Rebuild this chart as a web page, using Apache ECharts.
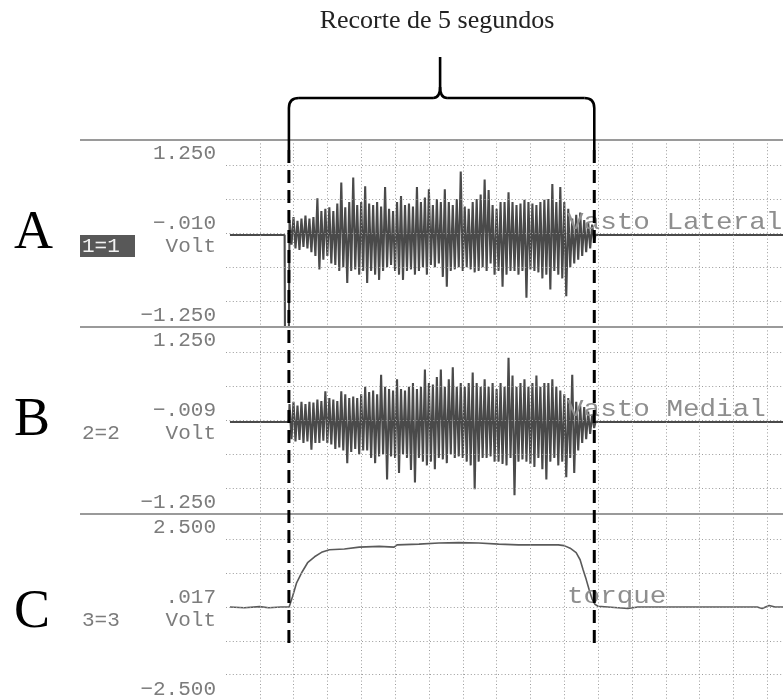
<!DOCTYPE html>
<html><head><meta charset="utf-8">
<script src="https://cdn.jsdelivr.net/npm/echarts@6/dist/echarts.min.js"></script>
<style>html,body{margin:0;padding:0;background:#fff}#c{width:783px;height:700px}</style>
</head><body><div id="c"></div>
<script>
// ---------------- data (time in s, amplitude in V) ----------------
const cutStart = 1.03;          // start of the 5 s cut
const cutEnd = 6.03;            // end of the 5 s cut
const burstStart = 1.04;        // time of first EMG sample shown
const sampleStep = 0.0326;      // s between displayed EMG samples
const baseA = -0.02, baseB = -0.02;

// Vasto Lateral EMG samples in the cut (V)
const vastoLateral = [
  0.18,-0.15,0.22,-0.2,0.17,-0.22,0.2,-0.18,0.24,-0.2,
  0.2,-0.25,0.22,-0.3,0.47,-0.48,0.3,-0.35,0.33,-0.3,
  0.35,-0.4,0.3,-0.42,0.4,-0.5,0.68,-0.45,0.35,-0.66,
  0.42,-0.5,0.75,-0.48,0.38,-0.55,0.42,-0.5,0.63,-0.66,
  0.4,-0.5,0.38,-0.55,0.42,-0.62,0.36,-0.5,0.62,-0.45,
  0.33,-0.42,0.3,-0.5,0.42,-0.55,0.5,-0.62,0.38,-0.5,
  0.4,-0.48,0.36,-0.55,0.62,-0.5,0.42,-0.45,0.48,-0.55,
  0.59,-0.42,0.38,-0.45,0.46,-0.4,0.42,-0.58,0.59,-0.71,
  0.42,-0.5,0.38,-0.48,0.46,-0.45,0.83,-0.5,0.36,-0.45,
  0.33,-0.48,0.42,-0.52,0.46,-0.5,0.52,-0.45,0.72,-0.5,
  0.58,-0.4,0.38,-0.55,0.33,-0.5,0.42,-0.71,0.42,-0.55,
  0.55,-0.5,0.42,-0.5,0.38,-0.55,0.4,-0.5,0.45,-0.86,
  0.42,-0.48,0.4,-0.5,0.38,-0.52,0.42,-0.6,0.45,-0.55,
  0.46,-0.75,0.66,-0.5,0.42,-0.55,0.62,-0.6,0.42,-0.84,
  0.33,-0.45,0.2,-0.4,0.25,-0.35,0.28,-0.3,0.18,-0.25,
  0.15,-0.2,0.12,-0.1
];
// artifact just before the cut on channel 1 (t, V)
const artifactT = [0.96, 0.965, 1.03];
const artifactV = [-0.02, -1.25, -1.25];

// Vasto Medial EMG samples in the cut (V)
const vastoMedial = [
  0.22,-0.25,0.25,-0.28,0.2,-0.26,0.25,-0.3,0.22,-0.28,
  0.25,-0.39,0.24,-0.3,0.28,-0.3,0.26,-0.27,0.39,-0.3,
  0.3,-0.32,0.28,-0.38,0.26,-0.36,0.39,-0.4,0.35,-0.57,
  0.3,-0.42,0.32,-0.38,0.3,-0.45,0.35,-0.4,0.45,-0.4,
  0.38,-0.5,0.4,-0.57,0.35,-0.48,0.61,-0.45,0.45,-0.79,
  0.42,-0.48,0.4,-0.5,0.55,-0.7,0.42,-0.45,0.4,-0.5,
  0.45,-0.66,0.5,-0.83,0.42,-0.5,0.45,-0.55,0.68,-0.6,
  0.5,-0.55,0.48,-0.65,0.58,-0.5,0.68,-0.52,0.45,-0.57,
  0.55,-0.45,0.71,-0.5,0.45,-0.48,0.5,-0.5,0.45,-0.55,
  0.5,-0.6,0.64,-0.92,0.5,-0.55,0.45,-0.5,0.55,-0.5,
  0.45,-0.48,0.5,-0.55,0.42,-0.55,0.5,-0.58,0.45,-0.6,
  0.84,-0.5,0.6,-1.0,0.45,-0.55,0.5,-0.52,0.55,-0.55,
  0.45,-0.58,0.5,-0.62,0.6,-0.5,0.45,-0.65,0.5,-0.79,
  0.5,-0.55,0.55,-0.5,0.45,-0.6,0.4,-0.55,0.35,-0.76,
  0.3,-0.5,0.61,-0.7,0.25,-0.4,0.2,-0.3,0.18,-0.25,
  0.12,-0.18,0.08,-0.1
];

// torque channel (t, V)
const torqueT = [0.065,0.3,0.55,0.7,0.9,1.034,1.091,1.156,1.238,1.336,1.45,1.564,1.694,1.938,2.182,2.508,
  2.752,2.801,3.16,3.485,3.811,4.137,4.463,4.788,5.114,5.44,5.537,5.635,5.733,5.798,5.847,5.896,5.945,5.993,
  6.042,6.091,6.254,6.417,6.58,6.743,7.72,8.697,8.778,8.893,8.99,9.12];
const torqueV = [0.0,-0.02,0.01,-0.02,0.0,0.0,0.29,0.65,0.92,1.19,1.35,1.47,1.54,1.56,1.61,1.63,
  1.61,1.67,1.69,1.72,1.73,1.72,1.69,1.67,1.67,1.67,1.65,1.58,1.46,1.27,1.0,0.75,0.47,0.22,
  0.07,0.02,0.0,-0.02,-0.04,0.0,0.0,0.0,-0.04,0.04,0.0,0.0];

// labels
const channelLetters = ['A', 'B', 'C'];
const channelIds = ['1=1', '2=2', '3=3'];
const channelNames = ['Vasto Lateral', 'Vasto Medial', 'torque'];
const offsetLabels = ['\u2212.010', '\u2212.009', '.017'];
const maxLabels = ['1.250', '1.250', '2.500'];
const minLabels = ['\u22121.250', '\u22121.250', '\u22122.500'];
const unitLabel = 'Volt';
const ranges = [1.25, 1.25, 2.5];
const yGridAB = [-0.909, -0.4545, 0, 0.4545, 0.909];
const yGridC = [-1.818, -0.909, 0, 0.909, 1.818];
const xGridInterval = 0.554;
const xMax = 9.12;
const titleText = 'Recorte de 5 segundos';

// ---------------- build ----------------
function emgData(samples, base, preT, preV) {
  const d = [[0.065, base]];
  if (preT) preT.forEach((t, i) => d.push([t, preV[i]]));
  else d.push([1.03, base]);
  samples.forEach((v, i) => d.push([burstStart + i * sampleStep, v]));
  d.push([6.05, base], [xMax, base]);
  return d;
}
const dataA = emgData(vastoLateral, baseA, artifactT, artifactV);
const dataB = emgData(vastoMedial, baseB);
const dataC = torqueT.map((t, i) => [t, torqueV[i]]);

const PANEL_TOPS = [140, 327, 514], PANEL_H = 187, GRID_LEFT = 226, GRID_W = 560;
const gridLine = { color: '#9c9c9c', width: 1, type: [1, 2.4] };
const yGrids = [yGridAB, yGridAB, yGridC];

const chart = echarts.init(document.getElementById('c'));
chart.setOption({
  animation: false,
  backgroundColor: '#fff',
  grid: PANEL_TOPS.map(t => ({ left: GRID_LEFT, top: t, width: GRID_W, height: PANEL_H })),
  xAxis: PANEL_TOPS.map((t, i) => ({
    type: 'value', gridIndex: i, min: 0, max: xMax, interval: xGridInterval, z: 5,
    axisLine: { show: false }, axisTick: { show: false }, axisLabel: { show: false },
    splitLine: { show: true, showMinLine: false, showMaxLine: false, lineStyle: gridLine }
  })),
  yAxis: PANEL_TOPS.map((t, i) => ({
    type: 'value', gridIndex: i, min: -ranges[i], max: ranges[i], z: 5,
    axisLine: { show: false },
    axisTick: { show: false, customValues: yGrids[i] },
    axisLabel: { show: false, customValues: yGrids[i] },
    splitLine: { show: true, lineStyle: gridLine }
  })),
  series: [
    { type: 'line', xAxisIndex: 0, yAxisIndex: 0, data: dataA, symbol: 'none',
      lineStyle: { color: '#4a4a4a', width: 2.1 }, z: 2 },
    { type: 'line', xAxisIndex: 1, yAxisIndex: 1, data: dataB, symbol: 'none',
      lineStyle: { color: '#4a4a4a', width: 2.1 }, z: 2 },
    { type: 'line', xAxisIndex: 2, yAxisIndex: 2, data: dataC, symbol: 'none',
      lineStyle: { color: '#5a5a5a', width: 1.6 }, z: 2 }
  ]
});

// ---------------- annotations ----------------
const xL = chart.convertToPixel({ xAxisIndex: 0 }, cutStart);
const xR = chart.convertToPixel({ xAxisIndex: 0 }, cutEnd);
const xM = (xL + xR) / 2 - 1.5;
const yBrace = 98, ySpike = 57, yEnd = 150, yDashEnd = 647, rr = 10;
const black = { stroke: '#000', lineWidth: 2.6, fill: null };
const mono = '"Liberation Mono", "DejaVu Sans Mono", monospace';
const els = [];

// separators
PANEL_TOPS.forEach(t => els.push({ type: 'line', z: 8, silent: true,
  shape: { x1: 80, y1: t, x2: 783, y2: t }, style: { stroke: '#9a9a9a', lineWidth: 2 } }));

// brace
const seg = (x1, y1, x2, y2) => els.push({ type: 'line', z: 10, shape: { x1, y1, x2, y2 }, style: black });
const bez = (x1, y1, cx, cy, x2, y2) => els.push({ type: 'bezierCurve', z: 10,
  shape: { x1, y1, cpx1: cx, cpy1: cy, x2, y2 }, style: black });
seg(xL, yEnd, xL, yBrace + rr);
bez(xL, yBrace + rr, xL, yBrace, xL + rr, yBrace);
seg(xL + rr, yBrace, xM - 7, yBrace);
bez(xM - 7, yBrace, xM, yBrace, xM, yBrace - 11);
seg(xM, yBrace - 11, xM, ySpike);
bez(xM, yBrace - 11, xM, yBrace, xM + 7, yBrace);
seg(xM + 7, yBrace, xR - rr, yBrace);
bez(xR - rr, yBrace, xR, yBrace, xR, yBrace + rr);
seg(xR, yBrace + rr, xR, yEnd);

// dashed cut lines
[xL, xR].forEach(x => els.push({ type: 'line', z: 10,
  shape: { x1: x, y1: yEnd, x2: x, y2: yDashEnd },
  style: { stroke: '#000', lineWidth: 3, lineDash: [13, 7] } }));

// title
els.push({ type: 'text', z: 10, x: 437, y: 21,
  style: { text: titleText, font: '26px "Liberation Serif", "Times New Roman", serif', fill: '#222',
    textAlign: 'center', textVerticalAlign: 'middle' } });

const letterY = [234, 421, 613];
PANEL_TOPS.forEach((t, i) => {
  els.push({ type: 'text', z: 10, x: 14, y: letterY[i],
    style: { text: channelLetters[i], font: '54px "Liberation Serif", "Times New Roman", serif', fill: '#000',
      textAlign: 'left', textVerticalAlign: 'middle' } });
  const lab = (txt, y) => els.push({ type: 'text', z: 10, x: 216, y: t + y,
    style: { text: txt, font: '21px ' + mono, fill: '#7c7c7c', textAlign: 'right', textVerticalAlign: 'middle' } });
  lab(maxLabels[i], 13.5);
  lab(offsetLabels[i], 83);
  lab(unitLabel, 106.5);
  lab(minLabels[i], 175.5);
  if (i === 0) {
    els.push({ type: 'rect', z: 9, shape: { x: 80, y: t + 95, width: 55, height: 22 }, style: { fill: '#585858' } });
  }
  els.push({ type: 'text', z: 10, x: 82, y: t + 106.5,
    style: { text: channelIds[i], font: '21px ' + mono, fill: i === 0 ? '#f2f2f2' : '#7c7c7c',
      textAlign: 'left', textVerticalAlign: 'middle' } });
  els.push({ type: 'text', z: 6, x: 567, y: t + 83, scaleX: 1.15,
    style: { text: channelNames[i], font: '24px ' + mono, fill: '#8e8e8e',
      textAlign: 'left', textVerticalAlign: 'middle' } });
});

chart.setOption({ graphic: els });
</script>
</body></html>
